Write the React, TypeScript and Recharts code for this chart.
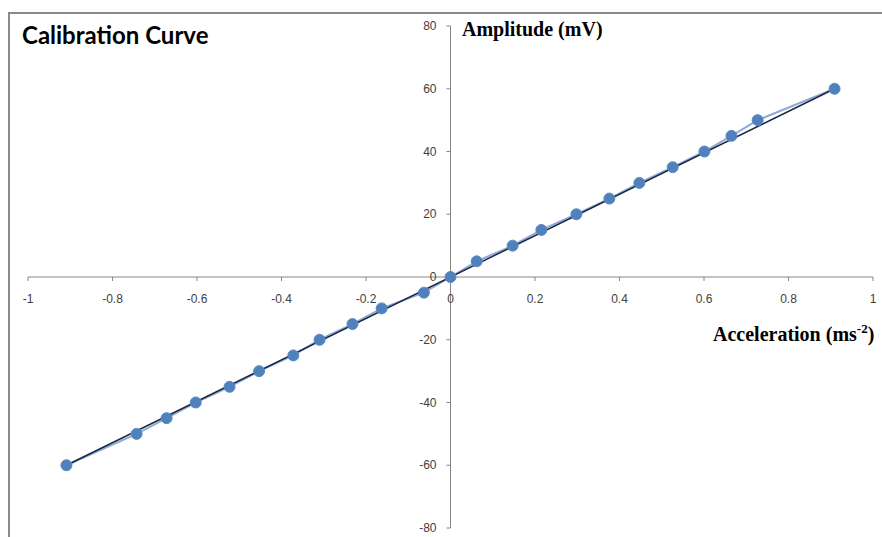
import React from "react";
import { ComposedChart, Line, XAxis, YAxis, ReferenceLine, ReferenceDot } from "recharts";

const accel = [-0.909, -0.743, -0.672, -0.603, -0.523, -0.453, -0.372, -0.31, -0.232, -0.163, -0.063, 0, 0.062, 0.147, 0.215, 0.298, 0.376, 0.447, 0.526, 0.601, 0.665, 0.727, 0.909];
const amplitude = [-60, -50, -45, -40, -35, -30, -25, -20, -15, -10, -5, 0, 5, 10, 15, 20, 25, 30, 35, 40, 45, 50, 60];
const trendX = [-0.909, 0.909];
const trendY = [-60, 60];
const xTicks = [-1, -0.8, -0.6, -0.4, -0.2, 0, 0.2, 0.4, 0.6, 0.8, 1];
const yTicks = [-80, -60, -40, -20, 0, 20, 40, 60, 80];

const measured = accel.map((x, i) => ({ x, y: amplitude[i] }));
const trend = trendX.map((x, i) => ({ x, y: trendY[i] }));

const AXIS = "#868686";
const LABEL = "#404040";
const tickFont = "'Liberation Sans', Arial, sans-serif";

const XTick = (v: number) => (props: any) => {
  const { cx, cy } = props;
  return (
    <g>
      <line x1={cx} y1={cy} x2={cx} y2={cy + 4} stroke={AXIS} strokeWidth={1} />
      <text x={cx} y={cy + 26} textAnchor="middle" fontSize={12} fill={LABEL} fontFamily={tickFont}>
        {String(v)}
      </text>
    </g>
  );
};

const YTick = (v: number) => (props: any) => {
  const { cx, cy } = props;
  return (
    <g>
      <line x1={cx - 4} y1={cy} x2={cx} y2={cy} stroke={AXIS} strokeWidth={1} />
      <text x={cx - 14} y={cy + 4} textAnchor="end" fontSize={12} fill={LABEL} fontFamily={tickFont}>
        {String(v)}
      </text>
    </g>
  );
};

export default function App() {
  return (
    <div style={{ position: "absolute", left: 0, top: 0, width: 882, height: 537, background: "#fff", overflow: "hidden" }}>
      <div
        style={{
          position: "absolute",
          left: 8,
          top: 12,
          width: 900,
          height: 600,
          borderTop: "2px solid #8a8a8a",
          borderLeft: "2px solid #8a8a8a",
        }}
      />
      <ComposedChart
        width={882}
        height={537}
        margin={{ top: 26, right: 9, bottom: 9, left: 28 }}
        style={{ position: "absolute", left: 0, top: 0 }}
      >
        <XAxis type="number" dataKey="x" domain={[-1, 1]} hide allowDataOverflow />
        <YAxis type="number" dataKey="y" domain={[-80, 80]} hide allowDataOverflow />
        <ReferenceLine y={0} stroke={AXIS} strokeWidth={1} />
        <ReferenceLine x={0} stroke={AXIS} strokeWidth={1} />
        {xTicks.map((v) => (
          <ReferenceDot key={"x" + v} x={v} y={0} r={0} shape={XTick(v)} ifOverflow="visible" />
        ))}
        {yTicks.map((v) => (
          <ReferenceDot key={"y" + v} x={0} y={v} r={0} shape={YTick(v)} ifOverflow="visible" />
        ))}
        <Line
          data={measured}
          dataKey="y"
          type="linear"
          stroke="#8eaad6"
          strokeWidth={2}
          dot={{ r: 5.5, fill: "#4f81bd", stroke: "#5b8ac4", strokeWidth: 1 }}
          isAnimationActive={false}
        />
        <Line
          data={trend}
          dataKey="y"
          type="linear"
          stroke="#1a2744"
          strokeWidth={1.5}
          dot={false}
          isAnimationActive={false}
        />
      </ComposedChart>
      <div
        style={{
          position: "absolute",
          left: 22,
          top: 20,
          fontFamily: "Lato, 'Open Sans', sans-serif",
          fontWeight: 700,
          fontSize: 24,
          color: "#000",
          whiteSpace: "nowrap",
        }}
      >
        Calibration Curve
      </div>
      <div
        style={{
          position: "absolute",
          left: 462,
          top: 18,
          fontFamily: "'Liberation Serif', 'Times New Roman', serif",
          fontWeight: 700,
          fontSize: 20,
          color: "#000",
          whiteSpace: "nowrap",
        }}
      >
        Amplitude (mV)
      </div>
      <div
        style={{
          position: "absolute",
          left: 713,
          top: 321,
          fontFamily: "'Liberation Serif', 'Times New Roman', serif",
          fontWeight: 700,
          fontSize: 20,
          color: "#000",
          whiteSpace: "nowrap",
        }}
      >
        Acceleration (ms<sup style={{ fontSize: 13 }}>-2</sup>)
      </div>
    </div>
  );
}
